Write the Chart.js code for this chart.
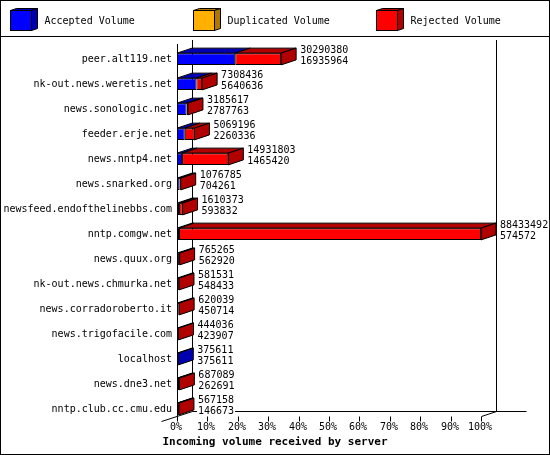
<!DOCTYPE html>
<html>
<head>
<meta charset="utf-8">
<script src="https://cdn.jsdelivr.net/npm/chart.js@4.4.0/dist/chart.umd.min.js"></script>
<style>
  html, body { margin: 0; padding: 0; background: #fff; }
  canvas { display: block; }
</style>
</head>
<body>
<canvas id="graficoVolume" width="550" height="455"></canvas>
<script>
// dados
const servers = [
  'peer.alt119.net', 'nk-out.news.weretis.net', 'news.sonologic.net', 'feeder.erje.net',
  'news.nntp4.net', 'news.snarked.org', 'newsfeed.endofthelinebbs.com', 'nntp.comgw.net',
  'news.quux.org', 'nk-out.news.chmurka.net', 'news.corradoroberto.it', 'news.trigofacile.com',
  'localhost', 'news.dne3.net', 'nntp.club.cc.cmu.edu'
];
const totalVolume = [30290380, 7308436, 3185617, 5069196, 14931803, 1076785, 1610373, 88433492,
  765265, 581531, 620039, 444036, 375611, 687089, 567158];
const acceptedVolume = [16935964, 5640636, 2787763, 2260336, 1465420, 704261, 593832, 574572,
  562920, 548433, 450714, 423907, 375611, 262691, 146673];
const duplicatedVolume = [0, 0, 0, 0, 0, 0, 0, 0, 0, 0, 0, 0, 0, 0, 0];
const tickPercents = [0, 10, 20, 30, 40, 50, 60, 70, 80, 90, 100];
const legendLabels = ['Accepted Volume', 'Duplicated Volume', 'Rejected Volume'];
const chartTitle = 'Incoming volume received by server';

const rejectedVolume = totalVolume.map((t, i) => t - acceptedVolume[i] - duplicatedVolume[i]);
const maxVolume = Math.max(...totalVolume);

const corFrente = ['#0000ff', '#ffb000', '#ff0000'];
const corEscura = ['#0000b0', '#b07800', '#b00000'];
const FONTE = '10px "DejaVu Sans Mono", monospace';
const DX = 15, DY = 5; // profundidade das barras

function linha(ctx, x0, y0, x1, y1) {
  ctx.beginPath();
  ctx.moveTo(x0, y0);
  ctx.lineTo(x1, y1);
  ctx.stroke();
}

function poligono(ctx, pts, fill) {
  ctx.beginPath();
  ctx.moveTo(pts[0][0], pts[0][1]);
  for (let i = 1; i < pts.length; i++) ctx.lineTo(pts[i][0], pts[i][1]);
  ctx.closePath();
  ctx.fillStyle = fill;
  ctx.fill();
  ctx.stroke();
}

function faceTopo(ctx, x0, x1, yT, dx, dy, cor) {
  poligono(ctx, [[x0, yT], [x1, yT], [x1 + dx, yT - dy], [x0 + dx, yT - dy]], cor);
}

function faceLado(ctx, x1, yT, yB, dx, dy, cor) {
  poligono(ctx, [[x1, yT], [x1 + dx, yT - dy], [x1 + dx, yB - dy], [x1, yB]], cor);
}

const efeito3d = {
  id: 'efeito3d',
  beforeDraw(chart) {
    const ctx = chart.ctx;
    ctx.save();
    ctx.fillStyle = '#fff';
    ctx.fillRect(0, 0, chart.width, chart.height);
    ctx.strokeStyle = '#000';
    ctx.lineWidth = 1;
    ctx.strokeRect(0.5, 0.5, chart.width - 1, chart.height - 1);
    linha(ctx, 0, 36.5, chart.width, 36.5);

    // legenda
    ctx.font = FONTE;
    ctx.textBaseline = 'middle';
    ctx.textAlign = 'left';
    const legX = [10.5, 193.5, 376.5];
    legendLabels.forEach((txt, i) => {
      const x = legX[i], y = 10.5, w = 21, h = 20;
      ctx.fillStyle = corFrente[i];
      ctx.fillRect(x, y, w, h);
      ctx.strokeRect(x, y, w, h);
      faceTopo(ctx, x, x + w, y, 6, 2, corEscura[i]);
      faceLado(ctx, x + w, y, y + h, 6, 2, corEscura[i]);
      ctx.fillStyle = '#000';
      ctx.fillText(txt, x + 34, 21);
    });
    ctx.restore();
  },
  beforeDatasetsDraw(chart) {
    const ctx = chart.ctx;
    const xs = chart.scales.x;
    const { left, right, top, bottom } = chart.chartArea;
    const esq = Math.round(left) + 0.5;
    const dir = Math.round(right) + 0.5;
    const chaoFrente = Math.round(bottom) - 5.5;
    const chaoFundo = Math.round(bottom) - 10.5;
    ctx.save();
    ctx.strokeStyle = '#000';
    ctx.lineWidth = 1;
    linha(ctx, esq, top - 2.5, esq, chaoFrente);
    linha(ctx, esq + DX, top - 6.5, esq + DX, chaoFundo);
    linha(ctx, dir + DX, top - 6.5, dir + DX, chaoFundo);
    linha(ctx, esq + DX, chaoFundo, dir + DX + 30, chaoFundo);
    linha(ctx, esq - 16, chaoFrente + 5, esq + DX, chaoFundo);
    linha(ctx, dir, chaoFrente, dir + DX, chaoFundo);

    ctx.font = FONTE;
    ctx.fillStyle = '#000';
    ctx.textAlign = 'center';
    ctx.textBaseline = 'middle';
    tickPercents.forEach(p => {
      const x = Math.round(xs.getPixelForValue(maxVolume * p / 100)) + 0.5;
      linha(ctx, x, chaoFrente, x, chaoFrente + 5);
      ctx.fillText(p + '%', x - 1.5, chaoFrente + 11);
    });
    ctx.restore();
  },
  afterDatasetsDraw(chart) {
    const ctx = chart.ctx;
    const ys = chart.scales.y;
    ctx.save();
    ctx.strokeStyle = '#000';
    ctx.lineWidth = 1;
    servers.forEach((nome, i) => {
      let ultimo = null;
      chart.data.datasets.forEach((ds, d) => {
        if (!ds.data[i]) return;
        const el = chart.getDatasetMeta(d).data[i];
        const p = el.getProps(['x', 'y', 'base', 'height'], true);
        const yT = p.y - p.height / 2;
        faceTopo(ctx, p.base, p.x, yT, DX, DY, corEscura[d]);
        ultimo = { p, d, yT, yB: p.y + p.height / 2 };
      });
      if (ultimo) {
        faceLado(ctx, ultimo.p.x, ultimo.yT, ultimo.yB, DX, DY, corEscura[ultimo.d]);
      }

      // rotulos de valores
      const cy = ys.getPixelForValue(i);
      const xFim = (ultimo ? ultimo.p.x : chart.chartArea.left) + DX + 4;
      ctx.font = FONTE;
      ctx.textAlign = 'left';
      ctx.textBaseline = 'middle';
      [[String(totalVolume[i]), cy - 9], [String(acceptedVolume[i]), cy + 2]].forEach(([txt, y]) => {
        const w = ctx.measureText(txt).width;
        ctx.fillStyle = '#fff';
        ctx.fillRect(xFim - 1, y - 5, w + 2, 10);
        ctx.fillStyle = '#000';
        ctx.fillText(txt, xFim, y);
      });

      // nomes dos servidores
      ctx.textAlign = 'right';
      ctx.fillText(nome, chart.chartArea.left - 5, cy);
    });

    ctx.font = 'bold 11px "DejaVu Sans Mono", monospace';
    ctx.textAlign = 'center';
    ctx.textBaseline = 'middle';
    ctx.fillText(chartTitle, chart.width / 2, 442);
    ctx.restore();
  }
};

const ctx = document.getElementById('graficoVolume').getContext('2d');

new Chart(ctx, {
  type: 'bar',
  data: {
    labels: servers,
    datasets: [
      { label: legendLabels[0], data: acceptedVolume, backgroundColor: corFrente[0] },
      { label: legendLabels[1], data: duplicatedVolume, backgroundColor: corFrente[1] },
      { label: legendLabels[2], data: rejectedVolume, backgroundColor: corFrente[2] }
    ].map(ds => Object.assign(ds, {
      borderColor: '#000',
      borderWidth: 1,
      borderSkipped: false,
      categoryPercentage: 1,
      barPercentage: 0.47
    }))
  },
  options: {
    indexAxis: 'y',
    responsive: false,
    animation: false,
    devicePixelRatio: 1,
    layout: { padding: { left: 177, right: 69, top: 46.5, bottom: 33.5 } },
    plugins: {
      legend: { display: false },
      title: { display: false },
      tooltip: { enabled: false }
    },
    scales: {
      x: { stacked: true, min: 0, max: maxVolume, display: false },
      y: { stacked: true, display: false, offset: true }
    }
  },
  plugins: [efeito3d]
});
</script>
</body>
</html>
